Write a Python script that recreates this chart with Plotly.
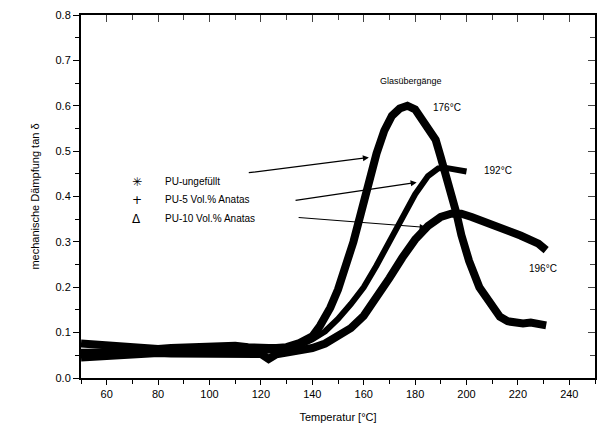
import plotly.graph_objects as go

# --- data ---
T_A = [50, 55, 60, 65, 70, 75, 80, 85, 90, 95, 100, 105, 110, 115, 120, 123, 126, 130, 135, 140,
       143, 147, 150, 153, 156, 159, 162, 165, 168, 171, 174, 177, 180, 183, 186, 188, 190, 192,
       194, 196, 198, 201, 205, 209, 213, 216, 219, 222, 225, 228, 231]
tan_A = [0.076, 0.074, 0.070, 0.067, 0.065, 0.063, 0.064, 0.066, 0.067, 0.068, 0.070, 0.072, 0.071,
         0.068, 0.065, 0.066, 0.066, 0.068, 0.077, 0.092, 0.115, 0.155, 0.195, 0.245, 0.300, 0.365,
         0.435, 0.495, 0.545, 0.578, 0.594, 0.600, 0.592, 0.568, 0.540, 0.525, 0.486, 0.450, 0.410,
         0.365, 0.315, 0.258, 0.200, 0.165, 0.135, 0.125, 0.122, 0.120, 0.122, 0.118, 0.116]

T_B = [50, 55, 60, 65, 70, 75, 80, 85, 90, 95, 100, 105, 110, 115, 120, 125, 130, 135, 140, 145,
       150, 155, 160, 165, 170, 175, 180, 185, 189, 192, 196, 200]
tan_B = [0.058, 0.058, 0.057, 0.057, 0.058, 0.058, 0.058, 0.059, 0.060, 0.060, 0.061, 0.062, 0.062,
         0.061, 0.059, 0.060, 0.064, 0.072, 0.085, 0.103, 0.130, 0.163, 0.200, 0.248, 0.300, 0.352,
         0.405, 0.445, 0.462, 0.463, 0.460, 0.455]

T_C = [50, 55, 60, 65, 70, 75, 80, 85, 90, 95, 100, 105, 110, 115, 120, 123, 126, 130, 135, 140,
       145, 150, 155, 160, 165, 170, 175, 180, 185, 190, 194, 198, 202, 208, 215, 221, 228, 231]
tan_C = [0.045, 0.047, 0.050, 0.052, 0.054, 0.055, 0.055, 0.054, 0.054, 0.054, 0.054, 0.054, 0.054,
         0.054, 0.053, 0.042, 0.052, 0.056, 0.060, 0.066, 0.076, 0.091, 0.110, 0.137, 0.175, 0.220,
         0.265, 0.305, 0.335, 0.355, 0.362, 0.362, 0.355, 0.343, 0.329, 0.314, 0.296, 0.282]

series_names = ["PU-ungefüllt", "PU-5 Vol.% Anatas", "PU-10 Vol.% Anatas"]
legend_symbols = ["✳", "+", "Δ"]
x_ticks = [60, 80, 100, 120, 140, 160, 180, 200, 220, 240]
y_ticks = [0.0, 0.1, 0.2, 0.3, 0.4, 0.5, 0.6, 0.7, 0.8]
x_minor = [50, 70, 90, 110, 130, 150, 170, 190, 210, 230, 250]
y_minor = [0.05, 0.15, 0.25, 0.35, 0.45, 0.55, 0.65, 0.75]
tg_labels = ["176°C", "192°C", "196°C"]

FONT = "Liberation Sans, Arial, sans-serif"

fig = go.Figure()
fig.add_trace(go.Scatter(x=T_A, y=tan_A, mode="lines", line=dict(color="black", width=8),
                         showlegend=False, hoverinfo="skip"))
fig.add_trace(go.Scatter(x=T_C, y=tan_C, mode="lines", line=dict(color="black", width=8),
                         showlegend=False, hoverinfo="skip"))
# B drawn on the mirrored (top/right) axes, which share the same ranges
fig.add_trace(go.Scatter(x=T_B, y=tan_B, mode="lines", line=dict(color="black", width=6),
                         xaxis="x2", yaxis="y2", showlegend=False, hoverinfo="skip"))

# legend as annotations
leg_y = [0.432, 0.393, 0.351]
for sym, name, ly in zip(legend_symbols, series_names, leg_y):
    fig.add_annotation(x=71.7, y=ly, text=sym, showarrow=False, xanchor="center",
                       font=dict(family="DejaVu Sans, sans-serif", size=12, color="black"))
    fig.add_annotation(x=81.8, y=ly, text=name, showarrow=False, xanchor="left",
                       font=dict(family=FONT, size=10, color="black"))

# arrows from legend to curves
arrows = [((114.7, 0.452), (162.0, 0.486)),
          ((132.9, 0.391), (180.6, 0.431)),
          ((134.1, 0.354), (184.1, 0.332))]
for (tx, ty), (hx, hy) in arrows:
    fig.add_annotation(x=hx, y=hy, ax=tx, ay=ty, axref="x", ayref="y", xref="x", yref="y",
                       showarrow=True, arrowhead=2, arrowsize=1, arrowwidth=1.2,
                       arrowcolor="black", text="")

fig.add_annotation(x=178.3, y=0.654, text="Glasübergänge", showarrow=False,
                   font=dict(family=FONT, size=9, color="black"))
for lbl, (lx, ly) in zip(tg_labels, [(192.6, 0.597), (212.4, 0.457), (229.8, 0.241)]):
    fig.add_annotation(x=lx, y=ly, text=lbl, showarrow=False,
                       font=dict(family=FONT, size=10, color="black"))

axis_common = dict(showgrid=False, zeroline=False, showline=True, linecolor="black",
                   linewidth=2, tickcolor="black", tickwidth=1, mirror=True,
                   tickfont=dict(family=FONT, size=11, color="black"))

fig.update_layout(
    width=603, height=432,
    margin=dict(l=81, r=6, t=15, b=54),
    paper_bgcolor="white", plot_bgcolor="white",
    xaxis=dict(range=[50, 250], tickvals=x_ticks, ticktext=[str(t) for t in x_ticks],
               ticks="outside", ticklen=5,
               minor=dict(tickvals=x_minor, ticks="outside", ticklen=4, tickcolor="black"),
               title=dict(text="Temperatur [°C]", font=dict(family=FONT, size=11, color="black"),
                          standoff=14),
               **axis_common),
    yaxis=dict(range=[0, 0.8], tickvals=y_ticks, ticktext=[f"{t:.1f}" for t in y_ticks],
               ticks="outside", ticklen=6,
               minor=dict(tickvals=y_minor, ticks="outside", ticklen=4, tickcolor="black"),
               title=dict(text="mechanische Dämpfung tan δ",
                          font=dict(family=FONT, size=11, color="black"), standoff=14),
               **axis_common),
    # top / right axes: only inward ticks (frame lines come from the mirrored main axes)
    xaxis2=dict(range=[50, 250], overlaying="x", side="top", tickvals=x_ticks,
                ticktext=["" for _ in x_ticks], ticks="inside", ticklen=7,
                minor=dict(tickvals=x_minor, ticks="inside", ticklen=5),
                showline=False, showgrid=False, zeroline=False),
    yaxis2=dict(range=[0, 0.8], overlaying="y", side="right", tickvals=y_ticks,
                ticktext=["" for _ in y_ticks], ticks="inside", ticklen=7,
                minor=dict(tickvals=y_minor, ticks="inside", ticklen=5),
                showline=False, showgrid=False, zeroline=False),
)

fig.write_html("out.html")
